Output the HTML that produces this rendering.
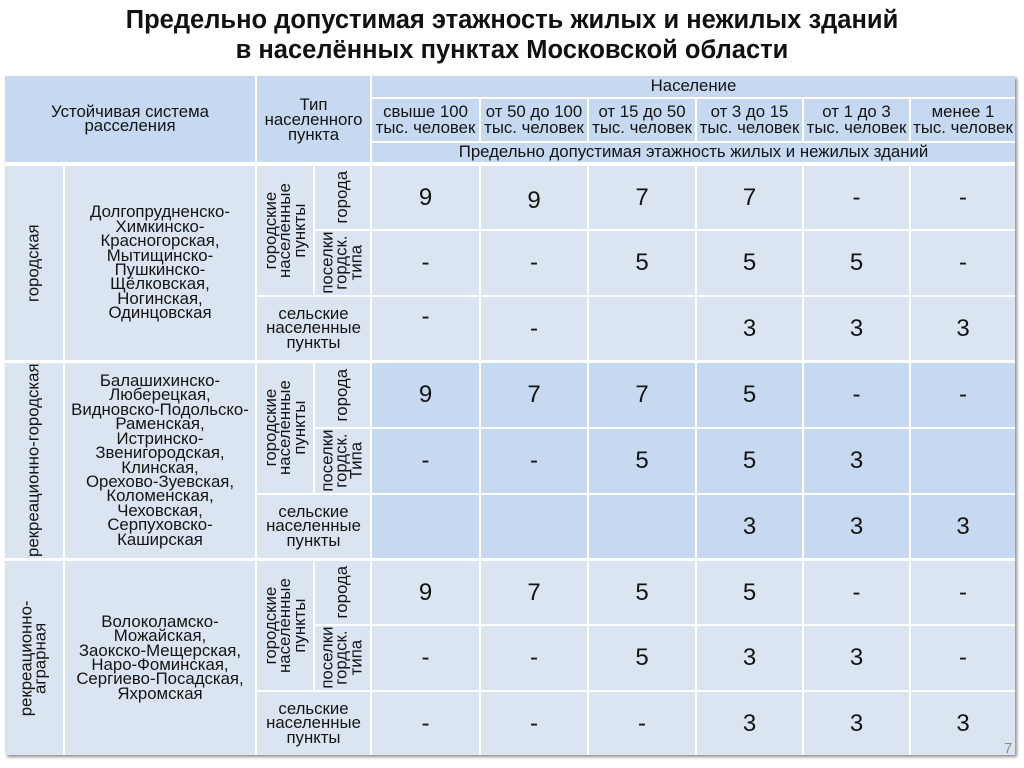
<!DOCTYPE html>
<html><head><meta charset="utf-8">
<style>
*{margin:0;padding:0;box-sizing:border-box}
body{width:1024px;height:768px;background:#fff;position:relative;overflow:hidden;font-family:"Liberation Sans",Arial,sans-serif;color:#141414}
.title{position:absolute;left:0;top:5px;width:1024px;text-align:center;font-weight:bold;font-size:25.5px;line-height:30px;color:#111}
.tbl{position:absolute;left:5px;top:76px;width:1010px;height:679px;background:#fff;box-shadow:2px 2px 3px rgba(0,0,0,0.45)}
.c{position:absolute;display:flex;align-items:center;justify-content:center;text-align:center;background:#dbe5f1;font-size:16.8px;line-height:14.4px;overflow:visible}
.h{background:#c6d9f1}
.h2{line-height:16px}
.n{font-size:24px;line-height:24px}
.r{display:block;transform:rotate(-90deg);white-space:nowrap;flex-shrink:0}
.pg{position:absolute;left:1004px;top:740px;font-size:15px;color:#8a8a8a}
</style></head><body>
<div class="title">Предельно допустимая этажность жилых и нежилых зданий<br>в населённых пунктах Московской области</div>
<div class="tbl"></div>

<!-- header -->
<div class="c h" style="left:5px;top:76px;width:250px;height:86px">Устойчивая система<br>расселения</div>
<div class="c h" style="left:257px;top:76px;width:113px;height:86px;line-height:15px">Тип<br>населенного<br>пункта</div>
<div class="c h" style="left:372px;top:76px;width:643px;height:21px">Население</div>
<div class="c h h2" style="left:372px;top:99px;width:107px;height:42px">свыше 100<br>тыс. человек</div>
<div class="c h h2" style="left:481px;top:99px;width:106px;height:42px">от 50 до 100<br>тыс. человек</div>
<div class="c h h2" style="left:589px;top:99px;width:106px;height:42px">от 15 до 50<br>тыс. человек</div>
<div class="c h h2" style="left:697px;top:99px;width:105px;height:42px">от 3 до 15<br>тыс. человек</div>
<div class="c h h2" style="left:804px;top:99px;width:105px;height:42px">от 1 до 3<br>тыс. человек</div>
<div class="c h h2" style="left:911px;top:99px;width:104px;height:42px">менее 1<br>тыс. человек</div>
<div class="c h" style="left:372px;top:143px;width:643px;height:19px">Предельно допустимая этажность жилых и нежилых зданий</div>

<!-- group 1 -->
<div class="c" style="left:5px;top:166px;width:58px;height:194px"><span class="r">городская</span></div>
<div class="c" style="left:65px;top:166px;width:190px;height:194px">Долгопрудненско-<br>Химкинско-<br>Красногорская,<br>Мытищинско-<br>Пушкинско-<br>Щёлковская,<br>Ногинская,<br>Одинцовская</div>
<div class="c" style="left:257px;top:166px;width:56px;height:129px"><span class="r">городские<br>населенные<br>пункты</span></div>
<div class="c" style="left:315px;top:166px;width:55px;height:63px"><span class="r">города</span></div>
<div class="c" style="left:315px;top:231px;width:55px;height:64px"><span class="r">поселки<br>гордск.<br>типа</span></div>
<div class="c" style="left:257px;top:297px;width:113px;height:63px">сельские<br>населенные<br>пункты</div>

<div class="c n" style="left:372px;top:166px;width:107px;height:63px">9</div>
<div class="c n" style="left:481px;top:166px;width:106px;height:63px;padding-top:7px">9</div>
<div class="c n" style="left:589px;top:166px;width:106px;height:63px">7</div>
<div class="c n" style="left:697px;top:166px;width:105px;height:63px">7</div>
<div class="c n" style="left:804px;top:166px;width:105px;height:63px">-</div>
<div class="c n" style="left:911px;top:166px;width:104px;height:63px">-</div>

<div class="c n" style="left:372px;top:231px;width:107px;height:64px">-</div>
<div class="c n" style="left:481px;top:231px;width:106px;height:64px">-</div>
<div class="c n" style="left:589px;top:231px;width:106px;height:64px">5</div>
<div class="c n" style="left:697px;top:231px;width:105px;height:64px">5</div>
<div class="c n" style="left:804px;top:231px;width:105px;height:64px">5</div>
<div class="c n" style="left:911px;top:231px;width:104px;height:64px">-</div>

<div class="c n" style="left:372px;top:297px;width:107px;height:63px;align-items:flex-start;padding-top:8px">-</div>
<div class="c n" style="left:481px;top:297px;width:106px;height:63px">-</div>
<div class="c n" style="left:589px;top:297px;width:106px;height:63px"></div>
<div class="c n" style="left:697px;top:297px;width:105px;height:63px">3</div>
<div class="c n" style="left:804px;top:297px;width:105px;height:63px">3</div>
<div class="c n" style="left:911px;top:297px;width:104px;height:63px">3</div>

<!-- group 2 -->
<div class="c" style="left:5px;top:363px;width:58px;height:195px"><span class="r">рекреационно-городская</span></div>
<div class="c" style="left:65px;top:363px;width:190px;height:195px">Балашихинско-<br>Люберецкая,<br>Видновско-Подольско-<br>Раменская,<br>Истринско-<br>Звенигородская,<br>Клинская,<br>Орехово-Зуевская,<br>Коломенская,<br>Чеховская,<br>Серпуховско-<br>Каширская</div>
<div class="c" style="left:257px;top:363px;width:56px;height:130px"><span class="r">городские<br>населенные<br>пункты</span></div>
<div class="c" style="left:315px;top:363px;width:55px;height:64px"><span class="r">города</span></div>
<div class="c" style="left:315px;top:429px;width:55px;height:64px"><span class="r">поселки<br>гордск.<br>Типа</span></div>
<div class="c" style="left:257px;top:495px;width:113px;height:63px">сельские<br>населенные<br>пункты</div>

<div class="c n h" style="left:372px;top:363px;width:107px;height:64px">9</div>
<div class="c n h" style="left:481px;top:363px;width:106px;height:64px">7</div>
<div class="c n h" style="left:589px;top:363px;width:106px;height:64px">7</div>
<div class="c n h" style="left:697px;top:363px;width:105px;height:64px">5</div>
<div class="c n h" style="left:804px;top:363px;width:105px;height:64px">-</div>
<div class="c n h" style="left:911px;top:363px;width:104px;height:64px">-</div>

<div class="c n h" style="left:372px;top:429px;width:107px;height:64px">-</div>
<div class="c n h" style="left:481px;top:429px;width:106px;height:64px">-</div>
<div class="c n h" style="left:589px;top:429px;width:106px;height:64px">5</div>
<div class="c n h" style="left:697px;top:429px;width:105px;height:64px">5</div>
<div class="c n h" style="left:804px;top:429px;width:105px;height:64px">3</div>
<div class="c n h" style="left:911px;top:429px;width:104px;height:64px"></div>

<div class="c n h" style="left:372px;top:495px;width:107px;height:63px"></div>
<div class="c n h" style="left:481px;top:495px;width:106px;height:63px"></div>
<div class="c n h" style="left:589px;top:495px;width:106px;height:63px"></div>
<div class="c n h" style="left:697px;top:495px;width:105px;height:63px">3</div>
<div class="c n h" style="left:804px;top:495px;width:105px;height:63px">3</div>
<div class="c n h" style="left:911px;top:495px;width:104px;height:63px">3</div>

<!-- group 3 -->
<div class="c" style="left:5px;top:561px;width:58px;height:194px"><span class="r">рекреационно-<br>аграрная</span></div>
<div class="c" style="left:65px;top:561px;width:190px;height:194px">Волоколамско-<br>Можайская,<br>Заокско-Мещерская,<br>Наро-Фоминская,<br>Сергиево-Посадская,<br>Яхромская</div>
<div class="c" style="left:257px;top:561px;width:56px;height:129px"><span class="r">городские<br>населенные<br>пункты</span></div>
<div class="c" style="left:315px;top:561px;width:55px;height:63px"><span class="r">города</span></div>
<div class="c" style="left:315px;top:626px;width:55px;height:64px"><span class="r">поселки<br>гордск.<br>типа</span></div>
<div class="c" style="left:257px;top:692px;width:113px;height:63px">сельские<br>населенные<br>пункты</div>

<div class="c n" style="left:372px;top:561px;width:107px;height:63px">9</div>
<div class="c n" style="left:481px;top:561px;width:106px;height:63px">7</div>
<div class="c n" style="left:589px;top:561px;width:106px;height:63px">5</div>
<div class="c n" style="left:697px;top:561px;width:105px;height:63px">5</div>
<div class="c n" style="left:804px;top:561px;width:105px;height:63px">-</div>
<div class="c n" style="left:911px;top:561px;width:104px;height:63px">-</div>

<div class="c n" style="left:372px;top:626px;width:107px;height:64px">-</div>
<div class="c n" style="left:481px;top:626px;width:106px;height:64px">-</div>
<div class="c n" style="left:589px;top:626px;width:106px;height:64px">5</div>
<div class="c n" style="left:697px;top:626px;width:105px;height:64px">3</div>
<div class="c n" style="left:804px;top:626px;width:105px;height:64px">3</div>
<div class="c n" style="left:911px;top:626px;width:104px;height:64px">-</div>

<div class="c n" style="left:372px;top:692px;width:107px;height:63px">-</div>
<div class="c n" style="left:481px;top:692px;width:106px;height:63px">-</div>
<div class="c n" style="left:589px;top:692px;width:106px;height:63px">-</div>
<div class="c n" style="left:697px;top:692px;width:105px;height:63px">3</div>
<div class="c n" style="left:804px;top:692px;width:105px;height:63px">3</div>
<div class="c n" style="left:911px;top:692px;width:104px;height:63px">3</div>

<div class="pg">7</div>
</body></html>
